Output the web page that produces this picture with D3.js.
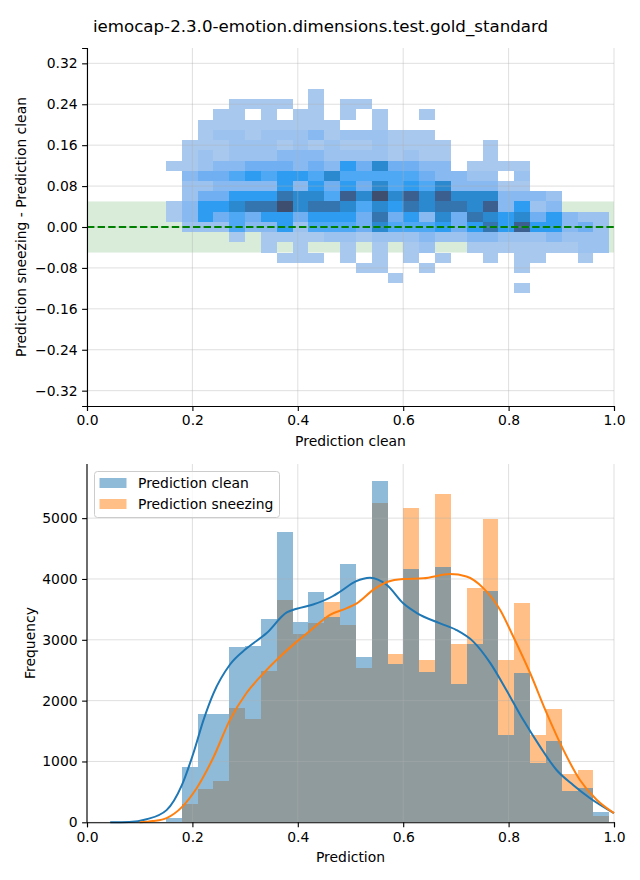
<!DOCTYPE html>
<html><head><meta charset="utf-8">
<script src="https://cdn.jsdelivr.net/npm/d3@7"></script>
<style>
body{margin:0;background:#fff}
text{font-family:"DejaVu Sans",sans-serif;fill:#000}
</style>
</head><body>
<svg id="chart" width="640" height="880"></svg>
<script>
// ---------------- DATA ----------------
const title = "iemocap-2.3.0-emotion.dimensions.test.gold_standard";

// histogram bins (shared by both panels)
const binStart = 0.1499;
const binWidth = 0.03004;
const binCount = 28;

// bottom panel: bar heights per bin
const cleanCounts   = [70, 909, 1776, 1776, 2878, 2895, 3339, 4770, 3294, 3790, 3382, 4250, 2714, 5609, 2599, 4161, 2467, 4194, 2270, 2928, 3799, 1431, 2451, 970, 1332, 515, 564, 170];
const sneezeCounts  = [0, 296, 543, 674, 1875, 1700, 2484, 3655, 3097, 3278, 3628, 3243, 2533, 5247, 2763, 5164, 2664, 5394, 2928, 3849, 4984, 2664, 3602, 1431, 1859, 794, 860, 104];

// KDE curves
const kdeCleanX = [0.044, 0.08, 0.113, 0.151, 0.180, 0.202, 0.221, 0.240, 0.271, 0.303, 0.341, 0.379, 0.398, 0.429, 0.467, 0.480, 0.510, 0.537, 0.569, 0.600, 0.626, 0.670, 0.701, 0.733, 0.765, 0.796, 0.828, 0.860, 0.891, 0.923, 0.954, 1.0];
const kdeCleanY = [0, 5, 50, 200, 610, 1140, 1680, 2120, 2590, 2860, 3110, 3450, 3510, 3580, 3720, 3790, 3960, 4020, 3900, 3600, 3440, 3270, 3160, 2970, 2620, 2170, 1680, 1240, 860, 610, 400, 150];
const kdeSneezeX = [0.10, 0.125, 0.151, 0.180, 0.208, 0.240, 0.271, 0.303, 0.335, 0.366, 0.398, 0.429, 0.461, 0.493, 0.512, 0.543, 0.569, 0.600, 0.638, 0.689, 0.720, 0.752, 0.784, 0.809, 0.841, 0.872, 0.904, 0.935, 0.967, 1.0];
const kdeSneezeY = [0, 20, 70, 250, 560, 1070, 1680, 2130, 2450, 2720, 2970, 3190, 3410, 3520, 3600, 3820, 3950, 4000, 4010, 4080, 4040, 3850, 3490, 3050, 2450, 1800, 1190, 700, 370, 150];

// top panel: 2D histogram, rows of y-bins (centre value) x 28 x-bins, density level 0..10
const heatRowCenters = [0.26, 0.24, 0.22, 0.20, 0.18, 0.16, 0.14, 0.12, 0.10, 0.08, 0.06, 0.04, 0.02, 0.00, -0.02, -0.04, -0.06, -0.08, -0.10, -0.12];
const heatBinHeight = 0.02;
const heatLevels = [
 [0,0,0,0,0,0,0,0,0,1,0,0,0,0,0,0,0,0,0,0,0,0,0,0,0,0,0,0],
 [0,0,0,0,1,1,1,1,0,1,0,1,1,0,0,0,0,0,0,0,0,0,0,0,0,0,0,0],
 [0,0,0,1,1,0,1,0,1,1,0,1,0,1,0,0,1,0,0,0,0,0,0,0,0,0,0,0],
 [0,0,1,1,1,1,1,1,1,1,1,0,0,1,0,0,0,0,0,0,0,0,0,0,0,0,0,0],
 [0,0,1,2,2,1,2,2,2,3,1,2,2,2,1,1,1,0,0,0,0,0,0,0,0,0,0,0],
 [0,1,1,1,2,2,2,1,2,1,2,1,1,2,1,1,1,1,0,0,1,0,0,0,0,0,0,0],
 [0,1,2,1,2,2,2,3,3,3,2,2,2,2,1,2,1,1,0,0,1,0,0,0,0,0,0,0],
 [1,1,2,3,3,4,4,4,3,4,3,6,4,7,4,4,3,3,0,1,1,1,1,0,0,0,0,0],
 [0,3,4,4,5,6,5,6,6,5,7,5,5,5,5,5,4,3,3,2,2,0,2,0,0,0,0,0],
 [0,2,2,3,3,3,3,6,3,6,4,6,4,7,5,6,5,7,3,3,3,1,1,0,0,0,0,0],
 [0,2,4,4,6,6,6,8,7,7,5,9,7,10,7,9,7,9,7,7,7,3,3,3,2,0,0,0],
 [1,3,6,6,7,8,8,10,7,8,8,7,5,7,6,8,7,8,8,7,9,3,6,2,3,0,0,0],
 [1,3,6,4,5,4,6,6,4,6,6,6,4,8,4,6,3,7,4,8,7,6,7,4,6,3,2,2],
 [0,2,2,2,5,3,3,6,2,5,5,5,4,7,5,5,5,6,4,6,8,6,9,6,6,3,4,2],
 [0,0,0,0,1,0,1,1,1,1,2,2,1,2,2,2,3,2,2,3,3,2,2,2,3,2,2,2],
 [0,0,0,0,0,0,1,0,1,0,0,1,0,1,0,1,2,0,0,1,1,1,1,1,1,1,2,2],
 [0,0,0,0,0,0,0,1,1,1,0,1,0,1,0,1,0,1,0,0,1,0,1,1,0,0,1,0],
 [0,0,0,0,0,0,0,0,0,0,0,0,1,1,0,0,1,0,0,0,0,0,1,0,0,0,0,0],
 [0,0,0,0,0,0,0,0,0,0,0,0,0,0,1,0,0,0,0,0,0,0,0,0,0,0,0,0],
 [0,0,0,0,0,0,0,0,0,0,0,0,0,0,0,0,0,0,0,0,0,0,1,0,0,0,0,0]
];

const topYTicks = [-0.32, -0.24, -0.16, -0.08, 0.00, 0.08, 0.16, 0.24, 0.32];
const xTicks = [0.0, 0.2, 0.4, 0.6, 0.8, 1.0];
const bottomYTicks = [0, 1000, 2000, 3000, 4000, 5000];
const seriesNames = ["Prediction clean", "Prediction sneezing"];
const bandLimit = 0.05;

// ---------------- DRAW ----------------
const svg = d3.select("#chart");
const L = 87, R = 614;
const FS = "13.9px";
const heatPalette = ["#a8c8ee","#9cc2ef","#88b9f0","#70b0f2","#4ea8f4","#2e9cf0","#2b89d0","#3475b0","#3b5f8e","#3d4e6e"];
const color = d3.scaleOrdinal().domain(d3.range(1, 11)).range(heatPalette);
const blue = "#1f77b4", orange = "#ff7f0e";
const gridStyle = g => g.attr("stroke", "#b0b0b0").attr("stroke-opacity", 0.5).attr("stroke-width", 0.8);
const rnd = Math.round;

svg.append("text").attr("x", 320.5).attr("y", 32).attr("text-anchor", "middle")
  .style("font-size", "16.67px").text(title);

const binEdge = i => binStart + i * binWidth;

// ---- top panel ----
const x1 = d3.scaleLinear().domain([0, 1]).range([L, R]);
const y1 = d3.scaleLinear().domain([-0.35, 0.35]).range([406, 48]);
const topG = svg.append("g");

topG.append("rect").attr("x", x1(0)).attr("width", x1(1) - x1(0))
  .attr("y", y1(bandLimit)).attr("height", y1(-bandLimit) - y1(bandLimit))
  .attr("fill", "green").attr("fill-opacity", 0.15);

const cells = [];
heatLevels.forEach((row, r) => row.forEach((v, c) => { if (v > 0) cells.push({r, c, v}); }));
topG.append("g").attr("shape-rendering", "crispEdges").selectAll("rect").data(cells).join("rect")
  .attr("x", d => rnd(x1(binEdge(d.c))))
  .attr("width", d => rnd(x1(binEdge(d.c + 1))) - rnd(x1(binEdge(d.c))))
  .attr("y", d => rnd(y1(heatRowCenters[d.r] + heatBinHeight / 2)))
  .attr("height", d => rnd(y1(heatRowCenters[d.r] - heatBinHeight / 2)) - rnd(y1(heatRowCenters[d.r] + heatBinHeight / 2)))
  .attr("fill", d => color(d.v));

// grid
topG.append("g").selectAll("line").data(xTicks).join("line")
  .attr("x1", d => x1(d)).attr("x2", d => x1(d)).attr("y1", y1(-0.35)).attr("y2", y1(0.35)).call(gridStyle);
topG.append("g").selectAll("line").data(topYTicks).join("line")
  .attr("x1", L).attr("x2", R).attr("y1", d => y1(d)).attr("y2", d => y1(d)).call(gridStyle);

topG.append("line").attr("x1", L).attr("x2", R).attr("y1", y1(0)).attr("y2", y1(0))
  .attr("stroke", "green").attr("stroke-width", 2).attr("stroke-dasharray", "7.4,3.2");

const ax1 = topG.append("g").attr("transform", `translate(0,${y1(-0.35)})`)
  .call(d3.axisBottom(x1).tickValues(xTicks).tickFormat(d3.format(".1f")).tickSizeOuter(0).tickSize(4.9).tickPadding(4.5));
const ay1 = topG.append("g").attr("transform", `translate(${L},0)`)
  .call(d3.axisLeft(y1).tickValues(topYTicks).tickFormat(d3.format(".2f")).tickSizeOuter(0).tickSize(4.9).tickPadding(4.5));
[ax1, ay1].forEach(a => { a.selectAll("text").style("font-size", FS).attr("font-family", "DejaVu Sans"); a.select(".domain").attr("stroke-width", 1.1); a.selectAll(".tick line").attr("stroke-width", 1.1); });

svg.append("text").attr("x", (L + R) / 2).attr("y", 446).attr("text-anchor", "middle").style("font-size", FS).text("Prediction clean");
svg.append("text").attr("transform", `translate(26,${y1(0)}) rotate(-90)`).attr("text-anchor", "middle").style("font-size", FS).text("Prediction sneezing - Prediction clean");

// ---- bottom panel ----
const x2 = d3.scaleLinear().domain([0, 1]).range([L, R]);
const y2 = d3.scaleLinear().domain([0, 5890]).range([822.3, 464]);
const bot = svg.append("g");

const drawBars = (vals, col) => bot.append("g").attr("shape-rendering", "crispEdges").selectAll("rect").data(vals).join("rect")
  .attr("x", (d, i) => rnd(x2(binEdge(i))))
  .attr("width", (d, i) => rnd(x2(binEdge(i + 1))) - rnd(x2(binEdge(i))))
  .attr("y", d => y2(d)).attr("height", d => y2(0) - y2(d))
  .attr("fill", col).attr("fill-opacity", 0.5);
drawBars(sneezeCounts, orange);
drawBars(cleanCounts, blue);

bot.append("g").selectAll("line").data(xTicks).join("line")
  .attr("x1", d => x2(d)).attr("x2", d => x2(d)).attr("y1", y2(0)).attr("y2", 464).call(gridStyle);
bot.append("g").selectAll("line").data(bottomYTicks).join("line")
  .attr("x1", L).attr("x2", R).attr("y1", d => y2(d)).attr("y2", d => y2(d)).call(gridStyle);

const line = d3.line().x(d => x2(d[0])).y(d => y2(d[1])).curve(d3.curveMonotoneX);
bot.append("path").attr("d", line(kdeCleanX.map((v, i) => [v, kdeCleanY[i]])))
  .attr("fill", "none").attr("stroke", blue).attr("stroke-width", 2);
bot.append("path").attr("d", line(kdeSneezeX.map((v, i) => [v, kdeSneezeY[i]])))
  .attr("fill", "none").attr("stroke", orange).attr("stroke-width", 2);

const ax2 = bot.append("g").attr("transform", `translate(0,${y2(0)})`)
  .call(d3.axisBottom(x2).tickValues(xTicks).tickFormat(d3.format(".1f")).tickSizeOuter(0).tickSize(4.9).tickPadding(4.5));
const ay2 = bot.append("g").attr("transform", `translate(${L},0)`)
  .call(d3.axisLeft(y2).tickValues(bottomYTicks).tickFormat(d3.format("d")).tickSizeOuter(0).tickSize(4.9).tickPadding(4.5));
[ax2, ay2].forEach(a => { a.selectAll("text").style("font-size", FS).attr("font-family", "DejaVu Sans"); a.select(".domain").attr("stroke-width", 1.1); a.selectAll(".tick line").attr("stroke-width", 1.1); });
ay2.select(".domain").attr("d", `M0,${y2(0)}V464`);

svg.append("text").attr("x", (L + R) / 2).attr("y", 862).attr("text-anchor", "middle").style("font-size", FS).text("Prediction");
svg.append("text").attr("transform", `translate(35,${(464 + 822) / 2}) rotate(-90)`).attr("text-anchor", "middle").style("font-size", FS).text("Frequency");

// legend
const lg = svg.append("g");
lg.append("rect").attr("x", 94.5).attr("y", 471.5).attr("width", 185).attr("height", 46).attr("rx", 3)
  .attr("fill", "#fff").attr("fill-opacity", 0.8).attr("stroke", "#cccccc");
[blue, orange].forEach((c, i) => {
  lg.append("rect").attr("x", 99.5).attr("y", 478 + i * 21).attr("width", 27).attr("height", 10).attr("fill", c).attr("fill-opacity", 0.5);
  lg.append("text").attr("x", 138).attr("y", 488 + i * 21).style("font-size", FS).text(seriesNames[i]);
});
</script>
</body></html>
